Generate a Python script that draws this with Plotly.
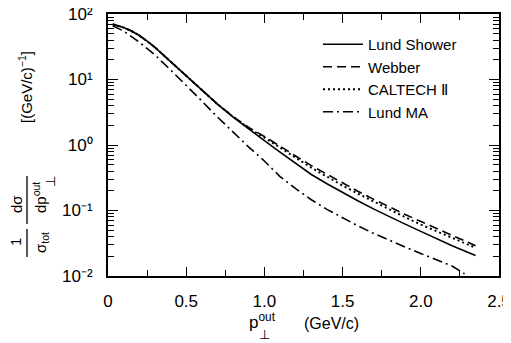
import plotly.graph_objects as go

# p_T^out values (GeV/c) and 1/sigma dsigma/dp values for each model
x_main = [0.03, 0.1, 0.15, 0.2, 0.25, 0.3, 0.4, 0.5, 0.6, 0.7, 0.8, 0.9, 1.0, 1.1, 1.2, 1.3, 1.4,
          1.5, 1.6, 1.7, 1.8, 1.9, 2.0, 2.1, 2.2, 2.3, 2.35]
lund_shower = [70, 62, 55, 47, 38.5, 31, 18.8, 11.3, 6.8, 4.2, 2.67, 1.75, 1.17, 0.78, 0.52, 0.355, 0.256,
               0.187, 0.14, 0.105, 0.08, 0.062, 0.048, 0.037, 0.029, 0.023, 0.0205]
webber = [70, 62, 55, 47, 38.5, 31, 18.8, 11.3, 6.8, 4.2, 2.72, 1.85, 1.35, 0.97, 0.68, 0.485, 0.355,
          0.26, 0.195, 0.148, 0.112, 0.087, 0.068, 0.053, 0.042, 0.033, 0.029]
caltech = [70, 62, 55, 47, 38.5, 31, 18.8, 11.3, 6.8, 4.2, 2.7, 1.8, 1.3, 0.92, 0.64, 0.45, 0.33,
           0.24, 0.18, 0.136, 0.102, 0.079, 0.061, 0.048, 0.038, 0.03, 0.027]

x_ma = [0.03, 0.1, 0.2, 0.3, 0.4, 0.5, 0.6, 0.7, 0.8, 0.9, 1.0, 1.1, 1.2, 1.3, 1.4,
        1.5, 1.6, 1.7, 1.8, 1.9, 2.0, 2.1, 2.2, 2.28]
lund_ma = [66, 55, 37, 23.7, 14, 8.2, 4.7, 2.67, 1.55, 0.93, 0.57, 0.33, 0.215, 0.146, 0.104,
           0.077, 0.058, 0.0445, 0.0348, 0.0277, 0.022, 0.0177, 0.0142, 0.0108]

x_tickvals = [0, 0.5, 1.0, 1.5, 2.0, 2.5]
x_ticktext = ["0", "0.5", "1.0", "1.5", "2.0", "2.5"]
y_tickvals = [0.01, 0.1, 1, 10, 100]
y_ticktext = ["10⁻²", "10⁻¹", "10⁰", "10¹", "10²"]

FONT = "Liberation Sans"
# the page body adds an 8px margin, so the figure is drawn 8px smaller and all
# screen positions below are shifted by OFF
OFF = 8
W, H = 511 - OFF, 343 - OFF
L, R, T, B = 108 - OFF, 12, 14 - OFF, 67


# screen pixel position -> paper coordinate (for the label pieces only)
def px(x):
    return (x - OFF - L) / (W - L - R)


def py(y):
    return (H - B - (y - OFF)) / (H - T - B)


fig = go.Figure()

line_w = 1.6
fig.add_trace(go.Scatter(x=x_main, y=lund_shower, mode="lines", name="Lund Shower",
                         line=dict(color="black", width=line_w)))
fig.add_trace(go.Scatter(x=x_main, y=webber, mode="lines", name="Webber",
                         line=dict(color="black", width=line_w, dash="9px,5px")))
fig.add_trace(go.Scatter(x=x_main, y=caltech, mode="lines", name="CALTECH Ⅱ",
                         line=dict(color="black", width=2, dash="2px,3px")))
fig.add_trace(go.Scatter(x=x_ma, y=lund_ma, mode="lines", name="Lund MA",
                         line=dict(color="black", width=line_w, dash="10px,4px,2px,4px")))

annotations = []


def label(text, x, y, size=15, angle=-90):
    annotations.append(dict(text=text, x=px(x), y=py(y), xref="paper", yref="paper",
                            showarrow=False, textangle=angle, xanchor="center",
                            yanchor="middle", font=dict(family=FONT, size=size, color="black")))


# y axis title built from pieces (rotated fractions)
label("1", 15, 242)
label("σ<sub>tot</sub>", 41, 243)
label("dσ", 16, 204)
label("dp<sup>out</sup>", 39, 198)
label("⊥", 50, 182, size=13)
label("[(GeV/c)<sup>−1</sup>]", 26, 87)

# x axis title
label("p<sup>out</sup>", 262, 321, size=17, angle=0)
label("⊥", 264, 334, size=13, angle=0)
label("(GeV/c)", 331, 323, size=16, angle=0)

shapes = [
    dict(type="line", xref="paper", yref="paper", x0=px(27), x1=px(27), y0=py(229), y1=py(257),
         line=dict(color="black", width=1.3)),
    dict(type="line", xref="paper", yref="paper", x0=px(27), x1=px(27), y0=py(176), y1=py(224),
         line=dict(color="black", width=1.3)),
]

fig.update_layout(
    width=W, height=H,
    margin=dict(l=L, r=R, t=T, b=B),
    paper_bgcolor="white", plot_bgcolor="white",
    font=dict(family=FONT, size=17, color="black"),
    showlegend=True,
    legend=dict(x=px(318), y=py(28), xanchor="left", yanchor="top", itemwidth=40,
                bgcolor="rgba(0,0,0,0)", font=dict(size=15), tracegroupgap=0),
    annotations=annotations,
    shapes=shapes,
    xaxis=dict(range=[0, 2.5], tickvals=x_tickvals, ticktext=x_ticktext, automargin=False,
               ticks="inside", ticklen=9, tickwidth=1.3, tickcolor="black",
               minor=dict(dtick=0.25, ticks="inside", ticklen=6, tickwidth=1.3, tickcolor="black"),
               showline=True, linecolor="black", linewidth=2, mirror="allticks",
               showgrid=False, zeroline=False, ticklabelstandoff=9, ticklabeloverflow="allow",
               tickfont=dict(size=17)),
    yaxis=dict(type="log", range=[-2, 2], tickvals=y_tickvals, ticktext=y_ticktext, automargin=False,
               ticks="inside", ticklen=10, tickwidth=1.3, tickcolor="black",
               minor=dict(dtick="D1", ticks="inside", ticklen=6, tickwidth=1.1, tickcolor="black",
                          showgrid=False),
               showline=True, linecolor="black", linewidth=2, mirror="allticks",
               showgrid=False, zeroline=False, ticklabelstandoff=10, ticklabeloverflow="allow",
               tickfont=dict(size=17)),
)

fig.write_html("out.html")
